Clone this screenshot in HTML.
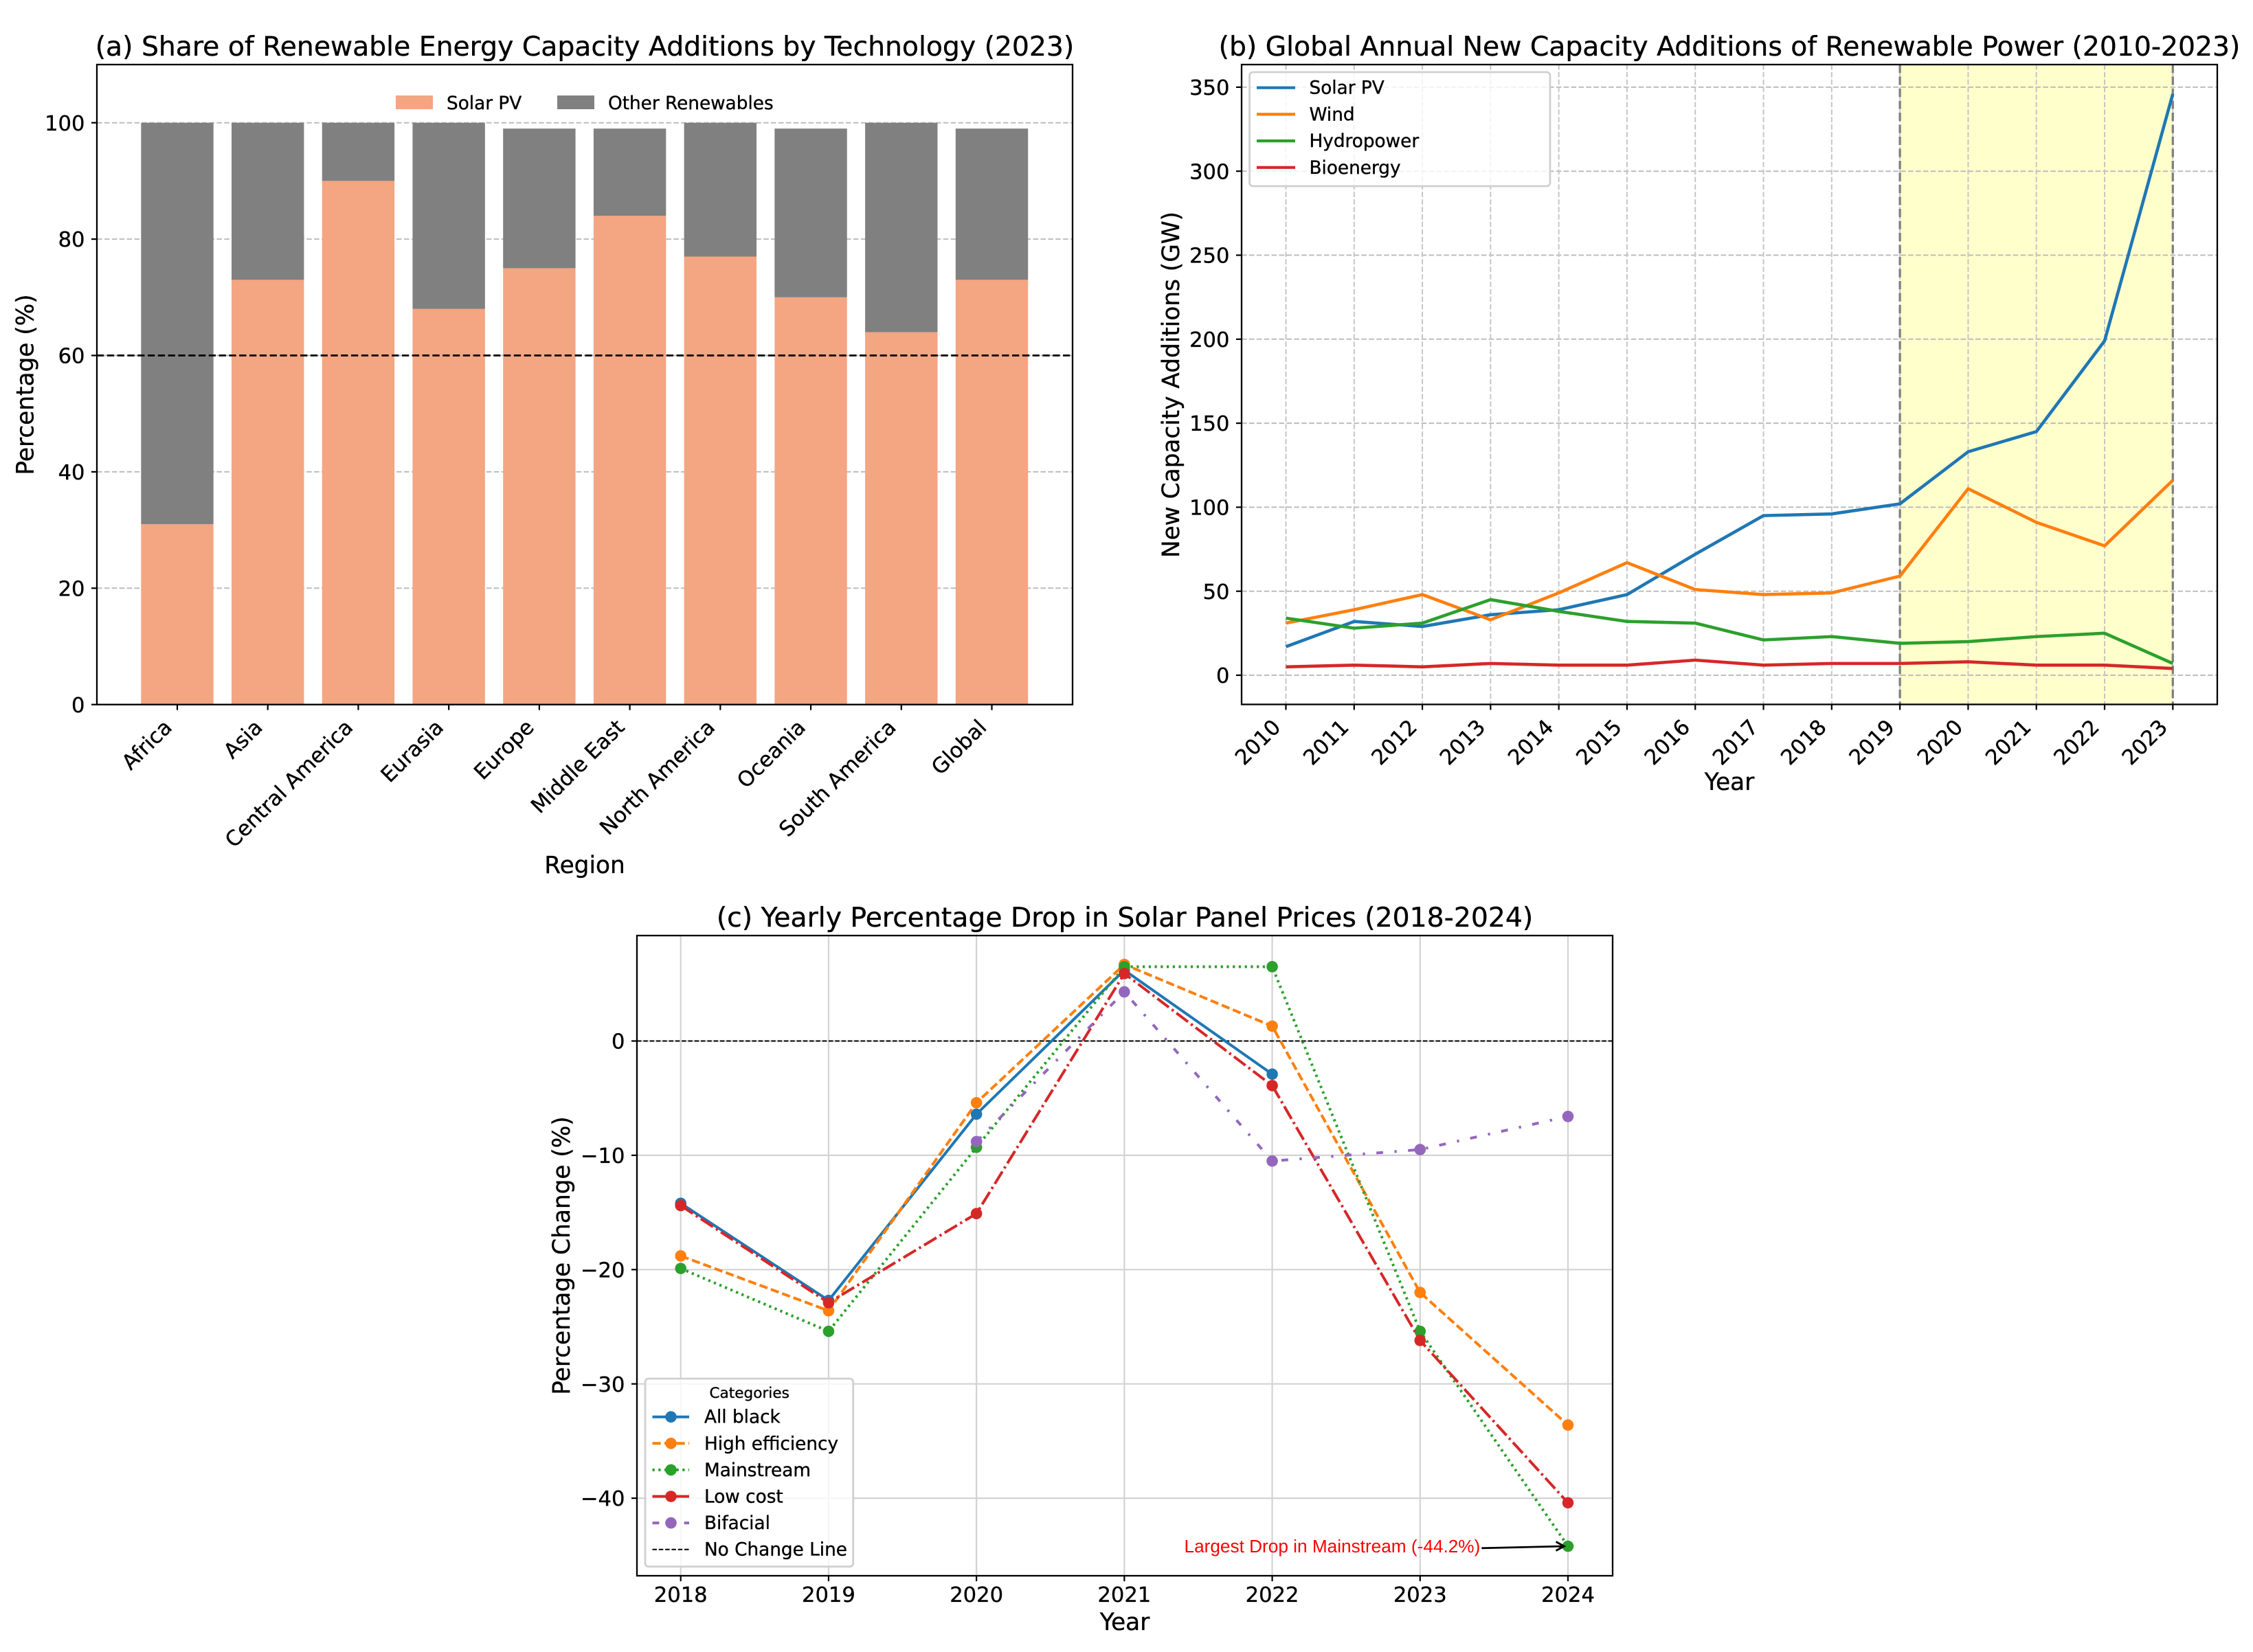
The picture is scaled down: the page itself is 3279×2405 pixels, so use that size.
<!DOCTYPE html>
<html lang="en">
<head>
<meta charset="utf-8">
<title>Renewable Energy Charts</title>
<style>
html,body{margin:0;padding:0;background:#fff;}
svg{display:block;font-family:"DejaVu Sans","Liberation Sans",sans-serif;}
text{stroke:#000;stroke-width:0.35px;}
</style>
</head>
<body>
<svg id="figure" xmlns="http://www.w3.org/2000/svg" width="3279" height="2405" viewBox="0 0 3279 2405">
  <rect x="0" y="0" width="3279" height="2405" fill="#fff"/>
  <g id="panelA"></g>
  <g id="panelB"></g>
  <g id="panelC"></g>
</svg>
<script>
// ---------- Panel (a) data ----------
const regions = ['Africa','Asia','Central America','Eurasia','Europe','Middle East','North America','Oceania','South America','Global'];
const solarShare = [31,73,90,68,75,84,77,70,64,73];
const otherShare = [69,27,10,32,24,15,23,29,36,26];
const referenceShare = 60;
const shareTicks = [0,20,40,60,80,100];

// ---------- Panel (b) data ----------
const additionYears = [2010,2011,2012,2013,2014,2015,2016,2017,2018,2019,2020,2021,2022,2023];
const solarAdditions = [17,32,29,36,39,48,72,95,96,102,133,145,199,346];
const windAdditions = [31,39,48,33,49,67,51,48,49,59,111,91,77,116];
const hydroAdditions = [34,28,31,45,38,32,31,21,23,19,20,23,25,7];
const bioAdditions = [5,6,5,7,6,6,9,6,7,7,8,6,6,4];
const additionTicks = [0,50,100,150,200,250,300,350];
const highlightYears = [2019,2023];

// ---------- Panel (c) data ----------
const priceYears = [2018,2019,2020,2021,2022,2023,2024];
const allBlackPrices = [-14.2,-22.7,-6.4,6.2,-2.9,null,null];
const highEfficiencyPrices = [-18.8,-23.6,-5.4,6.7,1.3,-22.0,-33.6];
const mainstreamPrices = [-19.9,-25.4,-9.3,6.5,6.5,-25.4,-44.2];
const lowCostPrices = [-14.4,-22.9,-15.1,5.9,-3.9,-26.2,-40.4];
const bifacialPrices = [null,null,-8.8,4.3,-10.5,-9.5,-6.6];
const priceTicks = [0,-10,-20,-30,-40];
const largestDrop = -44.2;

const NS = 'http://www.w3.org/2000/svg';
const BLUE='#1f77b4', ORANGE='#ff7f0e', GREEN='#2ca02c', RED='#d62728', PURPLE='#9467bd';
const FONT_TICK=30.6, FONT_LABEL=34.3, FONT_TITLE=39.3, FONT_LEGEND=26.3;

function mk(parent, tag, attrs, text){
  const node = document.createElementNS(NS, tag);
  for (const k in attrs) node.setAttribute(k, attrs[k]);
  if (text !== undefined) node.textContent = text;
  parent.appendChild(node);
  return node;
}
function slug(s){ return String(s).toLowerCase().replace(/[^a-z0-9]+/g,'-'); }
function pathFrom(xs, ys, xf, yf){
  let d='', pen=false;
  for (let i=0;i<xs.length;i++){
    if (ys[i]===null){ pen=false; continue; }
    d += (pen?'L':'M') + xf(xs[i]).toFixed(2) + ' ' + yf(ys[i]).toFixed(2) + ' ';
    pen=true;
  }
  return d;
}
function frame(g, b){
  const el = mk(g,'rect',{x:b.l,y:b.t,width:b.r-b.l,height:b.b-b.t,fill:'none',stroke:'#000','stroke-width':2.3});
  
  
}
function yTick(g, b, y, label){
  const tick = mk(g,'line',{x1:b.l-8,x2:b.l,y1:y,y2:y,stroke:'#000','stroke-width':2.2});
  
  
  const t = mk(g,'text',{x:b.l-17.5,y:y+11.1,'text-anchor':'end','font-size':FONT_TICK},label);
  
  
}
function xTickMark(g, b, x){
  const tick = mk(g,'line',{x1:x,x2:x,y1:b.b,y2:b.b+8,stroke:'#000','stroke-width':2.2});
  
  
}
function rotatedLabel(g, b, x, label){
  const px = x-6, py = b.b+35;
  const t = mk(g,'text',{x:px,y:py,'text-anchor':'end','font-size':FONT_TICK,transform:'rotate(-45 '+px+' '+py+')'},label);
  
  
}
function title(g, cx, y, s){
  const t = mk(g,'text',{x:cx,y:y,'text-anchor':'middle','font-size':FONT_TITLE},s);
  
  
}
function xLabel(g, cx, y, s){
  const t = mk(g,'text',{x:cx,y:y,'text-anchor':'middle','font-size':FONT_LABEL},s);
  
  
}
function yLabel(g, x, cy, s){
  const t = mk(g,'text',{x:x,y:cy,'text-anchor':'middle','font-size':FONT_LABEL,transform:'rotate(-90 '+x+' '+cy+')'},s);
  
  
}

// ================= Panel (a) =================
(function(){
  const g = document.getElementById('panelA');
  const b = {l:141,r:1561,t:94,b:1025.7};
  const y0 = 1025.7, yPer = (1025.7-178.7)/100;
  const x0 = 258, xStep = (1443.5-258)/9;
  const xf = i => x0 + i*xStep;
  const yf = v => y0 - v*yPer;
  const barW = 0.8*xStep;

  shareTicks.forEach(v=>{
    const line = mk(g,'line',{x1:b.l,x2:b.r,y1:yf(v),y2:yf(v),stroke:'#bdbdbd','stroke-width':2,'stroke-dasharray':'7.6 3.3'});
    
    
  });
  regions.forEach((r,i)=>{
    const s = mk(g,'rect',{x:xf(i)-barW/2,y:yf(solarShare[i]),width:barW,height:yf(0)-yf(solarShare[i]),fill:'#f4a582'});
    
    
    const top = solarShare[i]+otherShare[i];
    const o = mk(g,'rect',{x:xf(i)-barW/2,y:yf(top),width:barW,height:yf(solarShare[i])-yf(top),fill:'#808080'});
    
    
    xTickMark(g,b,xf(i));
    rotatedLabel(g,b,xf(i),r);
  });
  const ref = mk(g,'line',{x1:b.l,x2:b.r,y1:yf(referenceShare),y2:yf(referenceShare),stroke:'#000','stroke-width':2.8,'stroke-dasharray':'10.3 4.5'});
  
  
  shareTicks.forEach(v=>yTick(g,b,yf(v),String(v)));

  const legendPatch1 = mk(g,'rect',{x:576,y:139,width:54,height:20,fill:'#f4a582'});
  
  
  const legendText1 = mk(g,'text',{x:650,y:159,'font-size':FONT_LEGEND},'Solar PV');
  
  
  const legendPatch2 = mk(g,'rect',{x:811,y:139,width:54,height:20,fill:'#808080'});
  
  
  const legendText2 = mk(g,'text',{x:885,y:159,'font-size':FONT_LEGEND},'Other Renewables');
  
  

  frame(g,b);
  title(g,851,81,'(a) Share of Renewable Energy Capacity Additions by Technology (2023)');
  xLabel(g,851,1271,'Region');
  yLabel(g,48.5,560,'Percentage (%)');
})();

// ================= Panel (b) =================
(function(){
  const g = document.getElementById('panelB');
  const b = {l:1807,r:3227,t:94,b:1025.5};
  const xPer = (3162.3-1871.5)/13;
  const xf = v => 1871.5 + (v-2010)*xPer;
  const yf = v => 983 - v*2.446;

  const span = mk(g,'rect',{x:xf(highlightYears[0]),y:b.t,width:xf(highlightYears[1])-xf(highlightYears[0]),height:b.b-b.t,fill:'#ffffcc'});
  
  

  additionTicks.forEach(v=>{
    const line = mk(g,'line',{x1:b.l,x2:b.r,y1:yf(v),y2:yf(v),stroke:'#bdbdbd','stroke-width':2,'stroke-dasharray':'7.6 3.3'});
    
    
  });
  additionYears.forEach(v=>{
    const line = mk(g,'line',{x1:xf(v),x2:xf(v),y1:b.t,y2:b.b,stroke:'#c6c6c6','stroke-width':2,'stroke-dasharray':'7.6 3.3'});
    
    
  });
  highlightYears.forEach(v=>{
    const line = mk(g,'line',{x1:xf(v),x2:xf(v),y1:b.t,y2:b.b,stroke:'#808080','stroke-width':3.3,'stroke-dasharray':'12.2 5.3'});
    
    
  });

  const series = [
    ['Solar PV',solarAdditions,BLUE],
    ['Wind',windAdditions,ORANGE],
    ['Hydropower',hydroAdditions,GREEN],
    ['Bioenergy',bioAdditions,RED]
  ];
  series.forEach(s=>{
    const p = mk(g,'path',{d:pathFrom(additionYears,s[1],xf,yf),fill:'none',stroke:s[2],'stroke-width':4.6,'stroke-linejoin':'round'});
    
    
  });
  additionTicks.forEach(v=>yTick(g,b,yf(v),String(v)));
  additionYears.forEach(v=>{ xTickMark(g,b,xf(v)); rotatedLabel(g,b,xf(v),String(v)); });

  const box = mk(g,'rect',{x:1818.6,y:105,width:437.4,height:166,rx:5,fill:'#fff','fill-opacity':0.8,stroke:'#d0d0d0','stroke-width':2.8});
  
  
  series.forEach((s,i)=>{
    const ly = 127.7 + i*38.7;
    const l = mk(g,'line',{x1:1829,x2:1885,y1:ly,y2:ly,stroke:s[2],'stroke-width':4.2});
    
    
    const t = mk(g,'text',{x:1905.5,y:ly+9,'font-size':FONT_LEGEND},s[0]);
    
    
  });

  frame(g,b);
  title(g,2517,81,'(b) Global Annual New Capacity Additions of Renewable Power (2010-2023)');
  xLabel(g,2517,1150,'Year');
  yLabel(g,1716,560,'New Capacity Additions (GW)');
})();

// ================= Panel (c) =================
(function(){
  const g = document.getElementById('panelC');
  const b = {l:927,r:2347,t:1362,b:2294};
  const xPer = (2282-990.7)/6;
  const xf = v => 990.7 + (v-2018)*xPer;
  const yf = v => 1515.5 - v*16.64;
  const LW = 3.3;
  const STROKE = 4.0;

  priceTicks.forEach(v=>{
    const line = mk(g,'line',{x1:b.l,x2:b.r,y1:yf(v),y2:yf(v),stroke:'#d3d3d3','stroke-width':2.2});
    
    
  });
  priceYears.forEach(v=>{
    const line = mk(g,'line',{x1:xf(v),x2:xf(v),y1:b.t,y2:b.b,stroke:'#d3d3d3','stroke-width':2.2});
    
    
  });
  const zero = mk(g,'line',{x1:b.l,x2:b.r,y1:yf(0),y2:yf(0),stroke:'#000','stroke-width':2,'stroke-dasharray':'6.5 2.8'});
  
  

  const d = k => k.map(n=>(n*LW).toFixed(2)).join(' ');
  const series = [
    ['All black',allBlackPrices,BLUE,'none'],
    ['High efficiency',highEfficiencyPrices,ORANGE,d([3.7,1.6])],
    ['Mainstream',mainstreamPrices,GREEN,d([1,1.65])],
    ['Low cost',lowCostPrices,RED,d([6.4,1.6,1,1.6])],
    ['Bifacial',bifacialPrices,PURPLE,d([3,5,1,5])]
  ];
  series.forEach(s=>{
    const p = mk(g,'path',{d:pathFrom(priceYears,s[1],xf,yf),fill:'none',stroke:s[2],'stroke-width':STROKE,'stroke-dasharray':s[3],'stroke-linejoin':'round'});
    
    
    priceYears.forEach((yr,i)=>{
      if (s[1][i]===null) return;
      const c = mk(g,'circle',{cx:xf(yr),cy:yf(s[1][i]),r:8.3,fill:s[2]});
      
      
    });
  });
  priceTicks.forEach(v=>yTick(g,b,yf(v),String(v).replace('-','\u2212')));
  priceYears.forEach(v=>{
    xTickMark(g,b,xf(v));
    const t = mk(g,'text',{x:xf(v),y:2332,'text-anchor':'middle','font-size':FONT_TICK},String(v));
    
    
  });

  // annotation
  const note = mk(g,'text',{x:1723.5,y:2260,'font-size':26.2,fill:'#ff0000',style:'stroke:none','font-family':'"Liberation Sans",sans-serif'},'Largest Drop in Mainstream (-44.2%)');
  
  
  const tipX = xf(2024)-5.5, tipY = yf(largestDrop);
  const arrow = mk(g,'path',{d:'M2156.4 '+(tipY+2.8)+' L'+tipX+' '+tipY+' M'+(tipX-12)+' '+(tipY-6.5)+' L'+tipX+' '+tipY+' L'+(tipX-12)+' '+(tipY+6.5),fill:'none',stroke:'#000','stroke-width':2.8});
  
  

  // legend
  const box = mk(g,'rect',{x:939,y:2007,width:302.7,height:273.7,rx:5,fill:'#fff','fill-opacity':0.8,stroke:'#d0d0d0','stroke-width':2.8});
  
  
  const lt = mk(g,'text',{x:1090.7,y:2035,'text-anchor':'middle','font-size':21.6},'Categories');
  
  
  series.forEach((s,i)=>{
    const ly = 2062.7 + i*38.6;
    const l = mk(g,'line',{x1:949.5,x2:1003,y1:ly,y2:ly,stroke:s[2],'stroke-width':STROKE,'stroke-dasharray':s[3]});
    
    
    const c = mk(g,'circle',{cx:976.5,cy:ly,r:8.3,fill:s[2]});
    
    
    const t = mk(g,'text',{x:1025,y:ly+9,'font-size':FONT_LEGEND},s[0]);
    
    
  });
  const noChange = mk(g,'line',{x1:949.5,x2:1003,y1:2255.7,y2:2255.7,stroke:'#000','stroke-width':2,'stroke-dasharray':'6.5 2.8'});
  
  
  const noChangeText = mk(g,'text',{x:1025,y:2264.7,'font-size':FONT_LEGEND},'No Change Line');
  
  

  frame(g,b);
  title(g,1637,1349,'(c) Yearly Percentage Drop in Solar Panel Prices (2018-2024)');
  xLabel(g,1637,2373,'Year');
  yLabel(g,829,1828,'Percentage Change (%)');
})();
</script>
</body>
</html>
